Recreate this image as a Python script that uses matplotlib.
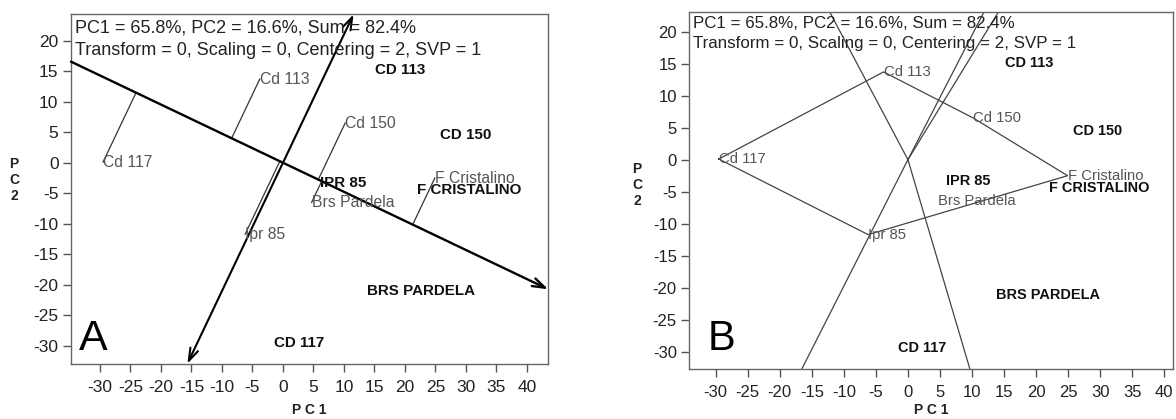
import matplotlib
matplotlib.use('Agg')
import matplotlib.pyplot as plt
from matplotlib import font_manager
import numpy as np

# ---------------- data ----------------
genotypes = ['Cd 117', 'Cd 113', 'Cd 150', 'F Cristalino', 'Ipr 85', 'Brs Pardela']
gen_pc1 = [-29.5, -3.8, 10.2, 24.9, -6.2, 4.7]
gen_pc2 = [0.1, 13.7, 6.5, -2.5, -11.7, -6.5]

environments = ['CD 113', 'CD 150', 'IPR 85', 'F CRISTALINO', 'BRS PARDELA', 'CD 117']
env_pc1 = [15.1, 25.7, 6.0, 22.0, 13.7, -1.55]
env_pc2 = [15.15, 4.5, -3.3, -4.4, -21.05, -29.45]

hull_order = ['Cd 117', 'Cd 113', 'Cd 150', 'F Cristalino', 'Ipr 85']

header1 = 'PC1 = 65.8%, PC2 = 16.6%, Sum = 82.4%'
header2 = 'Transform = 0, Scaling = 0, Centering = 2, SVP = 1'
ticks_x = list(range(-30, 41, 5))
ticks_y = list(range(-30, 21, 5))

# ---------------- fonts ----------------
names = {f.name for f in font_manager.fontManager.ttflist}
if 'Liberation Sans Narrow' in names:
    narrow, nscale = 'Liberation Sans Narrow', 1.0
else:
    narrow, nscale = 'Liberation Sans', 0.87
plt.rcParams['font.family'] = ['Liberation Sans', 'DejaVu Sans']
plt.rcParams['axes.unicode_minus'] = False

W, H = 1176, 419
fig = plt.figure(figsize=(W / 100, H / 100), dpi=100)


def px_axes(l, r, t, b):
    return fig.add_axes([l / W, 1 - b / H, (r - l) / W, (b - t) / H])


def style(ax, xlim, ylim, fs):
    ax.set_xlim(*xlim)
    ax.set_ylim(*ylim)
    ax.set_xticks(ticks_x)
    ax.set_yticks(ticks_y)
    for s in ax.spines.values():
        s.set_color('#666666')
        s.set_linewidth(1.0)
    ax.tick_params(direction='out', length=6, width=1, color='#555555',
                   labelsize=fs, labelcolor='#222222')
    ax.tick_params(axis='x', pad=6)
    ax.tick_params(axis='y', pad=3)


def ray_to_box(d, xlim, ylim):
    ts = []
    for lim, comp in ((xlim, d[0]), (ylim, d[1])):
        if comp > 0:
            ts.append(lim[1] / comp)
        elif comp < 0:
            ts.append(lim[0] / comp)
    return np.asarray(d, float) * min(ts)


G = np.column_stack([gen_pc1, gen_pc2])
E = np.column_stack([env_pc1, env_pc2])

# ---------------- panel A ----------------
xlimA, ylimA = (-34.75, 43.5), (-32.9, 24.3)
axA = px_axes(71, 548.3, 14.3, 363.7)
style(axA, xlimA, ylimA, 12.5)

u = E.mean(axis=0)
u = u / np.linalg.norm(u)
v = np.array([-u[1], u[0]])
if v[1] < 0:
    v = -v
pos_end = ray_to_box(u, xlimA, ylimA)
neg_end = ray_to_box(-u, xlimA, ylimA)
axA.annotate('', xy=pos_end, xytext=neg_end, annotation_clip=False,
             arrowprops=dict(arrowstyle='->,head_length=0.9,head_width=0.3',
                             lw=1.7, color='black', shrinkA=0, shrinkB=0))
top_end = ray_to_box(v, xlimA, ylimA)
bot_end = ray_to_box(-v, xlimA, ylimA)
axA.annotate('', xy=bot_end, xytext=top_end, annotation_clip=False,
             arrowprops=dict(arrowstyle='<->,head_length=0.9,head_width=0.3',
                             lw=1.5, color='black', shrinkA=0, shrinkB=0))
for p in G:
    foot = np.dot(p, u) * u
    axA.plot([p[0], foot[0]], [p[1], foot[1]], color='#333333', lw=0.9)

# ---------------- panel B ----------------
xlimB, ylimB = (-34.1, 41.3), (-32.6, 23.1)
axB = px_axes(689.3, 1172.7, 11.7, 368.5)
style(axB, xlimB, ylimB, 12)

idx = [genotypes.index(n) for n in hull_order]
P = G[idx]
Pc = np.vstack([P, P[:1]])
axB.plot(Pc[:, 0], Pc[:, 1], color='#444444', lw=0.9)
for i in range(len(P)):
    a, b = P[i], P[(i + 1) % len(P)]
    e = b - a
    n = np.array([-e[1], e[0]])
    if np.dot(n, (a + b) / 2) < 0:
        n = -n
    end = ray_to_box(n, xlimB, ylimB)
    axB.plot([0, end[0]], [0, end[1]], color='#444444', lw=0.9)

# ---------------- labels ----------------
for ax, gfs, efs, hfs, hx, hy, letter, lpos, lfs in (
        (axA, 13, 12.5, 13, -34.1, (22.4, 18.66), 'A', (-33.4, -30.7), 31),
        (axB, 12.3, 12, 12.2, -33.6, (21.45, 18.33), 'B', (-31.3, -29.7), 30)):
    for name, (x, y) in zip(genotypes, G):
        ax.text(x, y, name, ha='left', va='center', fontsize=gfs * nscale,
                family=[narrow, 'DejaVu Sans'], color='#555555')
    for name, (x, y) in zip(environments, E):
        ax.text(x, y, name, ha='left', va='center', fontsize=efs * nscale,
                family=[narrow, 'DejaVu Sans'], fontweight='bold', color='#111111')
    ax.text(hx, hy[0], header1, ha='left', va='center_baseline', fontsize=hfs, color='#222222')
    ax.text(hx, hy[1], header2, ha='left', va='center_baseline', fontsize=hfs, color='#222222')
    ax.text(lpos[0], lpos[1], letter, ha='left', va='baseline', fontsize=lfs, color='black')

for (cx, cy) in ((309.6, 410), (931, 410)):
    fig.text(cx / W, 1 - cy / H, 'P C 1', ha='center', va='center', fontsize=10,
             fontweight='bold', color='#222222')
for (cx, cy) in ((14, 180), (637, 185)):
    fig.text(cx / W, 1 - cy / H, 'P\nC\n2', ha='center', va='center', fontsize=10,
             fontweight='bold', color='#222222', linespacing=1.15)

fig.savefig('out.png', dpi=100)
